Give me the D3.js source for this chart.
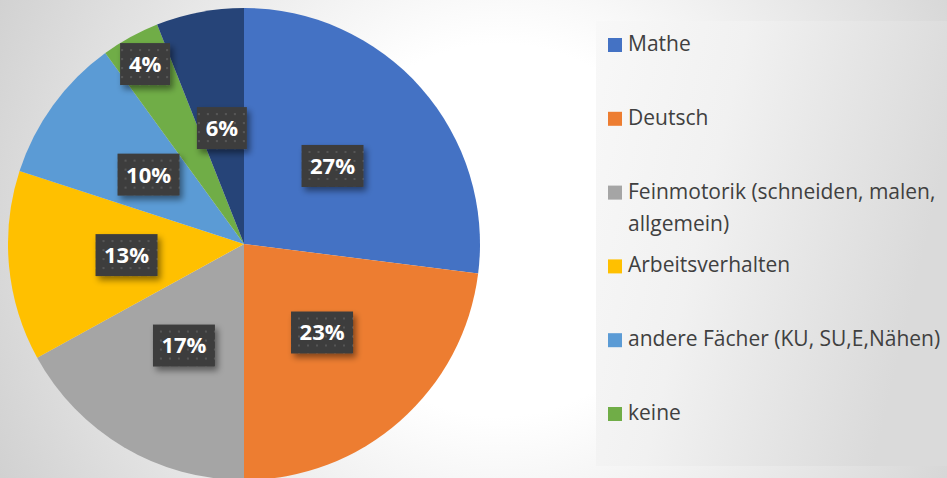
<!DOCTYPE html>
<html lang="de">
<head>
  <meta charset="UTF-8">
  <title>Förderbedarf</title>
  <style>
    body { margin: 0; background: #fff; }
    svg { display: block; }
    .legend text { font-family: 'Open Sans', sans-serif; font-size: 21px; fill: #404040; }
    .lbl text { font-family: 'Open Sans', sans-serif; font-size: 22px; font-weight: bold; fill: #fff; }
  </style>
</head>
<body>
  <svg width="947" height="478"></svg>
  <script src="https://cdn.jsdelivr.net/npm/d3@7/dist/d3.min.js"></script>
  <script>
    var categories = ['Mathe', 'Deutsch', 'Feinmotorik (schneiden, malen, allgemein)', 'Arbeitsverhalten',
      'andere Fächer (KU, SU,E,Nähen)', 'keine', 'sonstige']
    var values = [27, 23, 17, 13, 10, 4, 6]
    var colors = ['#4472C4', '#ED7D31', '#A5A5A5', '#FFC000', '#5B9BD5', '#70AD47', '#264478']
    // legend lines (Feinmotorik wraps)
    var legendLines = [['Mathe'], ['Deutsch'], ['Feinmotorik (schneiden, malen,', 'allgemein)'],
      ['Arbeitsverhalten'], ['andere Fächer (KU, SU,E,Nähen)'], ['keine'], ['sonstige']]
    // only the first six entries fit in the legend box
    var legendCount = 6

    var svg = d3.select('svg')
    var W = 947, H = 478
    var defs = svg.append('defs')

    // background gradient
    var bg = defs.append('radialGradient').attr('id', 'bg')
      .attr('gradientUnits', 'userSpaceOnUse')
      .attr('cx', 500).attr('cy', 230).attr('r', 620)
    bg.append('stop').attr('offset', 0).attr('stop-color', '#ffffff')
    bg.append('stop').attr('offset', 0.3).attr('stop-color', '#ffffff')
    bg.append('stop').attr('offset', 1).attr('stop-color', '#c9c9c9')
    svg.append('rect').attr('width', W).attr('height', H).attr('fill', 'url(#bg)')

    // legend panel gradient
    var lg = defs.append('linearGradient').attr('id', 'lg')
      .attr('x1', 0).attr('y1', 0).attr('x2', 1).attr('y2', 0.3)
    lg.append('stop').attr('offset', 0).attr('stop-color', '#f8f8f8')
    lg.append('stop').attr('offset', 0.4).attr('stop-color', '#f1f1f1')
    lg.append('stop').attr('offset', 1).attr('stop-color', '#dadada')

    // dotted texture for data labels
    var pat = defs.append('pattern').attr('id', 'dots')
      .attr('patternUnits', 'userSpaceOnUse').attr('width', 9).attr('height', 9)
    pat.append('rect').attr('width', 9).attr('height', 9).attr('fill', '#3d3d3d')
    pat.append('rect').attr('x', 3).attr('y', 3).attr('width', 2).attr('height', 2).attr('fill', '#575757')

    var sh = defs.append('filter').attr('id', 'shadow')
      .attr('x', '-30%').attr('y', '-30%').attr('width', '160%').attr('height', '170%')
    sh.append('feDropShadow').attr('dx', 3).attr('dy', 4).attr('stdDeviation', 3)
      .attr('flood-color', '#000').attr('flood-opacity', 0.45)

    // pie
    var cx = 244, cy = 244, R = 236
    var pie = d3.pie().sort(null).value(function(d) { return d })
    var arcs = pie(values)
    var arc = d3.arc().innerRadius(0).outerRadius(R)
    var g = svg.append('g').attr('transform', 'translate(' + cx + ',' + cy + ')')

    g.selectAll('path')
      .data(arcs)
      .enter()
      .append('path')
      .attr('d', arc)
      .attr('fill', function(d, i) { return colors[i] })

    // labels: small slices pushed outward (best fit)
    var inner = d3.arc().innerRadius(0).outerRadius(R)
    var outer = d3.arc().innerRadius(R * 0.74).outerRadius(R)
    var lbl = g.selectAll('.lbl')
      .data(arcs)
      .enter()
      .append('g')
      .attr('class', 'lbl')
      .attr('transform', function(d) {
        var c = d.data < 5 ? outer.centroid(d) : inner.centroid(d)
        return 'translate(' + c[0] + ',' + c[1] + ')'
      })
    lbl.append('rect')
      .attr('x', function(d) { return d.data >= 10 ? -31 : -25 })
      .attr('y', -21)
      .attr('width', function(d) { return d.data >= 10 ? 62 : 50 })
      .attr('height', 42)
      .attr('fill', 'url(#dots)')
      .attr('filter', 'url(#shadow)')
    lbl.append('text')
      .attr('text-anchor', 'middle')
      .attr('dy', '0.36em')
      .text(function(d) { return d.data + '%' })

    // legend
    var px = 596, py = 21, pw = W - 596, ph = 445
    svg.append('rect').attr('x', px).attr('y', py).attr('width', pw).attr('height', ph)
      .attr('fill', 'url(#lg)')

    var rowY = d3.scaleLinear().domain([0, 1]).range([51, 124.8])
    var leg = svg.append('g').attr('class', 'legend')
      .selectAll('g')
      .data(categories.slice(0, legendCount))
      .enter()
      .append('g')
      .attr('transform', function(d, i) { return 'translate(0,' + rowY(i) + ')' })
    leg.append('rect')
      .attr('x', 608).attr('y', -13).attr('width', 14).attr('height', 14)
      .attr('fill', function(d, i) { return colors[i] })
    leg.append('text')
      .attr('x', 628)
      .each(function(d, i) {
        var t = d3.select(this)
        legendLines[i].forEach(function(line, j) {
          t.append('tspan').attr('x', 628).attr('y', j * 32).text(line)
        })
      })
  </script>
</body>
</html>
